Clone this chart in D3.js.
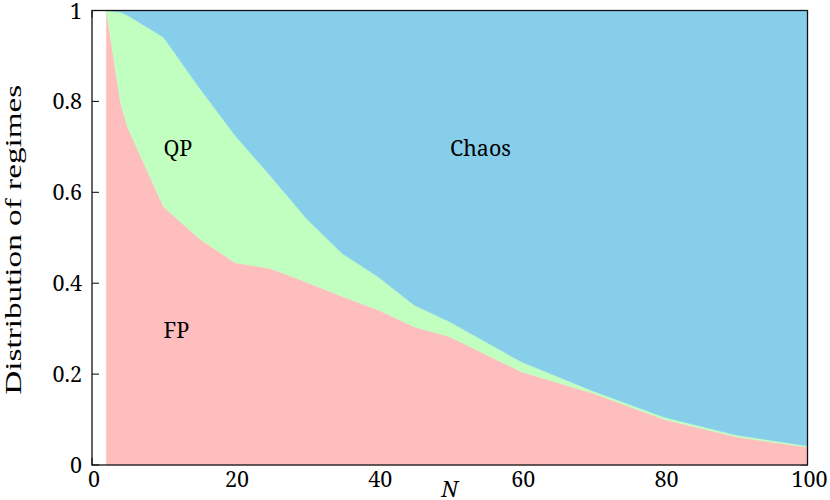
<!DOCTYPE html>
<html>
<head>
<meta charset="utf-8">
<script src="https://cdn.jsdelivr.net/npm/d3@7"></script>
<style>
  html, body { margin: 0; padding: 0; background: #fff; }
  svg { display: block; }
</style>
</head>
<body>
<svg id="chart" width="830" height="500" font-family="'Noto Serif', 'DejaVu Serif', serif"></svg>
<script>
// ---- data ----
const nValues  = [2, 4, 5, 10, 15, 20, 25, 30, 35, 40, 45, 50, 60, 70, 80, 90, 100];
const fpShare  = [1.0, 0.796, 0.742, 0.568, 0.498, 0.445, 0.432, 0.402, 0.371, 0.341, 0.304, 0.282, 0.205, 0.158, 0.100, 0.062, 0.039];
const qpShare  = [0.0, 0.200, 0.247, 0.373, 0.332, 0.280, 0.203, 0.140, 0.094, 0.073, 0.048, 0.033, 0.022, 0.005, 0.005, 0.004, 0.003];
const xTicks   = [0, 20, 40, 60, 80, 100];
const yTicks   = [0, 0.2, 0.4, 0.6, 0.8, 1];
const regimeLabels = [
  { text: "FP",    n: 11.8, v: 0.28 },
  { text: "QP",    n: 12.0, v: 0.68 },
  { text: "Chaos", n: 54.3, v: 0.68 }
];

// ---- layout ----
const svg = d3.select("#chart");
const mLeft = 92, mRight = 807.5, mTop = 10.5, mBottom = 465;
const fs = 21.5;
const x = d3.scaleLinear().domain([0, 100]).range([mLeft, mRight]);
const y = d3.scaleLinear().domain([0, 1]).range([mBottom, mTop]);

const rows = nValues.map((n, i) => ({ n, fp: fpShare[i], qp: qpShare[i], chaos: Math.max(0, 1 - fpShare[i] - qpShare[i]) }));
const stack = d3.stack().keys(["fp", "qp", "chaos"]);
const series = stack(rows);
const colors = { fp: "rgb(255,190,190)", qp: "rgb(193,255,193)", chaos: "rgb(135,206,235)" };

// ticks (drawn beneath the fills, inward)
const tickG = svg.append("g").attr("stroke", "#000").attr("stroke-width", 1);
yTicks.forEach(t => {
  tickG.append("line").attr("x1", x(0)).attr("x2", x(0) + 7).attr("y1", y(t)).attr("y2", y(t));
  tickG.append("line").attr("x1", x(100)).attr("x2", x(100) - 7).attr("y1", y(t)).attr("y2", y(t));
});
xTicks.forEach(t => {
  tickG.append("line").attr("x1", x(t)).attr("x2", x(t)).attr("y1", y(0)).attr("y2", y(0) - 7);
  tickG.append("line").attr("x1", x(t)).attr("x2", x(t)).attr("y1", y(1)).attr("y2", y(1) + 7);
});

// areas
const area = d3.area()
  .x(d => x(d.data.n))
  .y0(d => y(d[0]))
  .y1(d => y(d[1]));
svg.append("g").selectAll("path")
  .data(series)
  .join("path")
  .attr("d", area)
  .attr("fill", d => colors[d.key])
  .attr("stroke", d => colors[d.key])
  .attr("stroke-width", 0.5);

// frame
svg.append("rect")
  .attr("x", mLeft).attr("y", mTop)
  .attr("width", mRight - mLeft).attr("height", mBottom - mTop)
  .attr("fill", "none").attr("stroke", "#111").attr("stroke-width", 1.3);

// tick labels
svg.append("g").selectAll("text")
  .data(yTicks)
  .join("text")
  .attr("x", mLeft - 10)
  .attr("y", d => y(d) + (d === 1 ? 1 : 0))
  .attr("dy", "0.36em")
  .attr("text-anchor", "end")
  .attr("font-size", fs)
  .text(d => d3.format("~g")(d));

svg.append("g").selectAll("text")
  .data(xTicks)
  .join("text")
  .attr("x", d => x(d) + 2)
  .attr("y", 487)
  .attr("text-anchor", "middle")
  .attr("font-size", fs)
  .text(d => d);

// axis titles
svg.append("text")
  .attr("x", (mLeft + mRight) / 2)
  .attr("y", 497)
  .attr("text-anchor", "middle")
  .attr("font-size", 22)
  .attr("font-style", "italic")
  .text("N");

svg.append("text")
  .attr("transform", `translate(20.5,${(mTop + mBottom) / 2 + 2}) rotate(-90)`)
  .attr("text-anchor", "middle")
  .attr("font-family", "'Liberation Serif', 'Noto Serif', serif")
  .attr("font-size", 24)
  .attr("textLength", 310)
  .attr("lengthAdjust", "spacingAndGlyphs")
  .text("Distribution of regimes");

// regime labels
svg.append("g").selectAll("text")
  .data(regimeLabels)
  .join("text")
  .attr("x", d => x(d.n))
  .attr("y", d => y(d.v))
  .attr("text-anchor", "middle")
  .attr("font-size", fs)
  .text(d => d.text);
</script>
</body>
</html>
